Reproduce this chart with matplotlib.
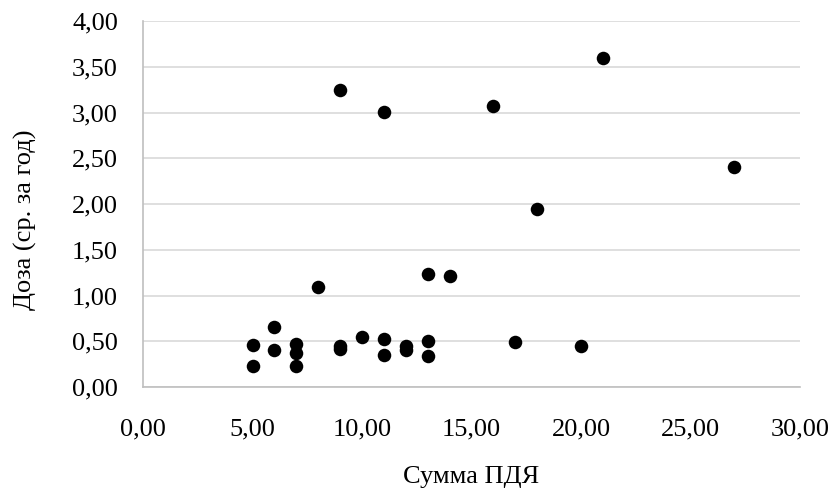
import matplotlib.pyplot as plt
from matplotlib.ticker import FuncFormatter

plt.rcParams['font.family'] = ['Liberation Serif', 'DejaVu Serif']

# Сумма ПДЯ и средняя годовая доза
pdya = [5, 5, 6, 6, 7, 7, 7, 8, 9, 9, 9, 10, 11, 11, 11, 12, 12,
        13, 13, 13, 14, 16, 17, 18, 20, 21, 27]
doza = [0.46, 0.23, 0.66, 0.40, 0.47, 0.37, 0.23, 1.09, 0.45, 0.41, 3.25,
        0.55, 0.52, 0.35, 3.01, 0.45, 0.40, 1.23, 0.50, 0.34, 1.21, 3.07,
        0.49, 1.94, 0.45, 3.60, 2.40]

fig = plt.figure(figsize=(8.32, 4.93), dpi=100)
ax = fig.add_axes([143 / 832, 1 - 387 / 493, 657 / 832, 366 / 493])

ax.scatter(pdya, doza, s=95, color='black', zorder=3, linewidths=0)

ax.set_xlim(0, 30)
ax.set_ylim(0, 4)
ax.set_xticks(range(0, 31, 5))
ax.set_yticks([i * 0.5 for i in range(9)])

fmt = FuncFormatter(lambda v, p: f'{v:.2f}'.replace('.', ','))
ax.xaxis.set_major_formatter(fmt)
ax.yaxis.set_major_formatter(fmt)

ax.grid(axis='y', color='#d9d9d9', linewidth=1.2, zorder=0)
ax.set_axisbelow(True)
for s in ['top', 'right']:
    ax.spines[s].set_visible(False)
for s in ['left', 'bottom']:
    ax.spines[s].set_color('#bfbfbf')
    ax.spines[s].set_linewidth(1.2)

ax.tick_params(axis='both', length=0, labelsize=19, colors='black')
ax.tick_params(axis='x', pad=23)
ax.tick_params(axis='y', pad=18)

ax.set_xlabel('Сумма ПДЯ', fontsize=19, labelpad=18)
ax.set_ylabel('Доза (ср. за год)', fontsize=19)
ax.yaxis.set_label_coords(-0.161, 0.456)

fig.savefig('out.png', dpi=100)
